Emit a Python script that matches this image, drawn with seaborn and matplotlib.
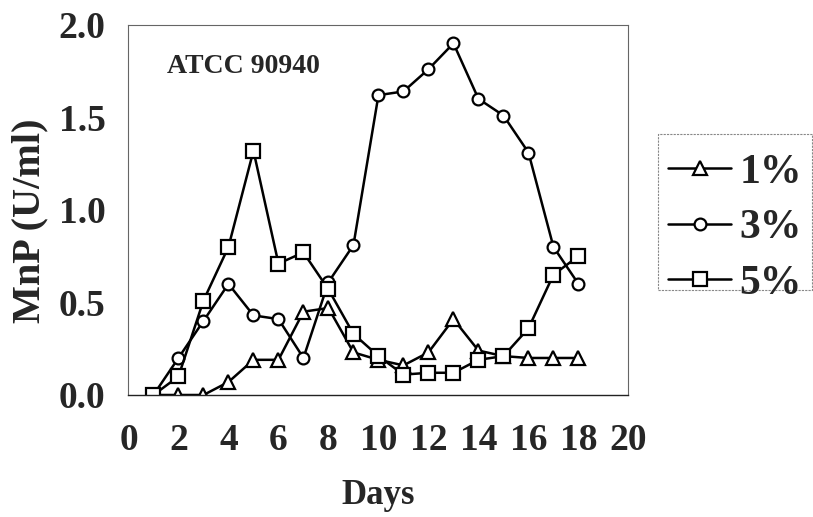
import matplotlib
matplotlib.use("Agg")
import matplotlib.pyplot as plt
from matplotlib.patches import Rectangle
import seaborn as sns
import pandas as pd

days = list(range(1, 19))
mnp_1 = [0.0, 0.0, 0.0, 0.07, 0.19, 0.19, 0.45, 0.47, 0.23, 0.19,
         0.16, 0.23, 0.41, 0.24, 0.21, 0.20, 0.20, 0.20]
mnp_3 = [0.0, 0.20, 0.40, 0.60, 0.43, 0.41, 0.20, 0.61, 0.81, 1.62,
         1.64, 1.76, 1.90, 1.60, 1.51, 1.31, 0.80, 0.60]
mnp_5 = [0.0, 0.10, 0.51, 0.80, 1.32, 0.71, 0.77, 0.57, 0.33, 0.21,
         0.11, 0.12, 0.12, 0.19, 0.21, 0.36, 0.65, 0.75]
labels = ["1%", "3%", "5%"]
x_ticks = list(range(0, 21, 2))
y_ticks = [0.0, 0.5, 1.0, 1.5, 2.0]

df = pd.DataFrame({
    "Days": days * 3,
    "MnP": mnp_1 + mnp_3 + mnp_5,
    "Conc": [labels[0]] * 18 + [labels[1]] * 18 + [labels[2]] * 18,
})

sns.set_theme(style="white")
plt.rcParams["font.family"] = ["Liberation Serif", "DejaVu Serif"]
plt.rcParams["font.weight"] = "bold"

W, H = 813, 517
fig = plt.figure(figsize=(W / 100, H / 100), dpi=100)
ax = fig.add_axes([0.158, 0.236, 0.615, 0.716])

marker_map = {"1%": ("^", 9.5), "3%": ("o", 8.5), "5%": ("s", 9.5)}
for lab in labels:
    m, ms = marker_map[lab]
    sns.lineplot(data=df[df["Conc"] == lab], x="Days", y="MnP", ax=ax,
                 color="black", linewidth=1.8, marker=m, markersize=ms,
                 markerfacecolor="white", markeredgecolor="black",
                 markeredgewidth=1.6, label=lab, legend=False)

ax.set_xlim(0, 20)
ax.set_ylim(0, 2.0)
ax.set_xticks(x_ticks)
ax.set_yticks(y_ticks)
ax.set_yticklabels([f"{v:.1f}" for v in y_ticks])
ax.tick_params(axis="both", labelsize=27, direction="inout", length=5,
               width=0.8, color="#555555")
ax.tick_params(axis="x", pad=18)
ax.tick_params(axis="y", pad=14)
for lbl in ax.get_xticklabels() + ax.get_yticklabels():
    lbl.set_fontweight("bold")

ax.set_xlabel("Days", fontsize=25, fontweight="bold", labelpad=15)
ax.set_ylabel("MnP (U/ml)", fontsize=29, fontweight="bold")
ax.yaxis.set_label_coords(-0.16, 0.47)

for side in ["top", "right", "left"]:
    ax.spines[side].set_color("#666666")
    ax.spines[side].set_linewidth(0.8)
    ax.spines[side].set_linestyle((0, (2, 1)))
ax.spines["bottom"].set_color("#222222")
ax.spines["bottom"].set_linewidth(1.0)

ax.text(0.078, 0.888, "ATCC 90940", transform=ax.transAxes, fontsize=20,
        fontweight="bold", ha="left", va="center")

# legend entries without their own frame; a separate dotted box surrounds them
handles = ax.get_lines()[:3]
leg = fig.legend(handles, labels, loc="upper left",
                 bbox_to_anchor=(658 / W, 1 - 143 / H), fontsize=30,
                 frameon=False, handlelength=1.5,
                 handletextpad=0.2, labelspacing=0.42, borderpad=0.25,
                 borderaxespad=0)
for t in leg.get_texts():
    t.set_fontweight("bold")

box = Rectangle((658 / W, 1 - 290 / H), (812 - 658) / W, (290 - 134) / H,
                transform=fig.transFigure, fill=False, edgecolor="#888888",
                linewidth=0.8, linestyle=(0, (2, 1)))
fig.add_artist(box)

fig.savefig("out.png", dpi=100)
